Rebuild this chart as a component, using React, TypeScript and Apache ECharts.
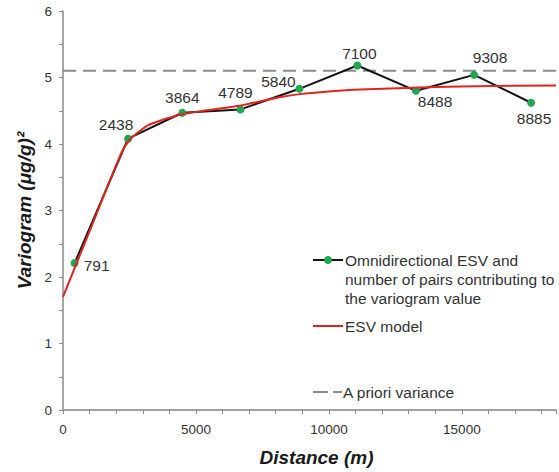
import React, { useEffect, useRef } from "react";
import * as echarts from "echarts";

// Experimental semivariogram (ESV): lag distance (m), variogram value, number of pairs
const LAG_DISTANCE = [438, 2446, 4488, 6672, 8889, 11070, 13276, 15460, 17603];
const ESV_VALUES = [2.21, 4.08, 4.47, 4.52, 4.83, 5.18, 4.8, 5.04, 4.62];
const PAIR_COUNTS = [791, 2438, 3864, 4789, 5840, 7100, 8488, 9308, 8885];

// ESV model curve
const MODEL_DISTANCE = [0, 1000, 2200, 2500, 2900, 3300, 4400, 5300, 6700, 8100, 8900, 10000, 11200, 13400, 15500, 18540];
const MODEL_VALUES = [1.7, 2.69, 3.87, 4.06, 4.2, 4.3, 4.44, 4.5, 4.58, 4.7, 4.75, 4.79, 4.82, 4.85, 4.87, 4.88];

// A priori variance
const A_PRIORI_VARIANCE = 5.1;

const X_MAX = 18540;
const Y_TICKS = [0, 1, 2, 3, 4, 5, 6];
const X_TICK_STEP = 5000;

const FONT = "'Liberation Sans', Arial, sans-serif";
const GREEN = "#1fa64e";
const RED = "#e2231f";
const GREY = "#8a8a8a";
const TEXT = "#333333";

// label placement relative to each point (style, not data)
const LABEL_OFFSETS: [number, number][] = [
  [22, 2],
  [-12, -14],
  [0, -15],
  [-5, -17],
  [-21, -7],
  [2, -12],
  [19, 11],
  [16, -17],
  [3, 16],
];

export default function App() {
  const ref = useRef<HTMLDivElement>(null);

  useEffect(() => {
    if (!ref.current) return;
    const chart = echarts.init(ref.current, undefined, { renderer: "svg" });

    const esvData = LAG_DISTANCE.map((x, i) => ({
      value: [x, ESV_VALUES[i]],
      label: { offset: LABEL_OFFSETS[i] },
    }));
    const modelData = MODEL_DISTANCE.map((x, i) => [x, MODEL_VALUES[i]]);
    const aprioriData = [
      [0, A_PRIORI_VARIANCE],
      [X_MAX, A_PRIORI_VARIANCE],
    ];

    const legendText = {
      fill: TEXT,
      font: `15.5px ${FONT}`,
    };

    chart.setOption({
      animation: false,
      backgroundColor: "#ffffff",
      grid: { left: 63, right: 0, top: 11, bottom: 60, containLabel: false },
      xAxis: [
        {
          type: "value",
          min: 0,
          max: X_MAX,
          interval: X_TICK_STEP,
          name: "Distance (m)",
          nameLocation: "middle",
          nameGap: 38,
          nameTextStyle: {
            fontFamily: FONT,
            fontSize: 19,
            fontWeight: "bold",
            fontStyle: "italic",
            color: "#1a1a1a",
            padding: [0, 0, 0, 14],
          },
          axisLine: { show: true, onZero: false, lineStyle: { color: GREY, width: 1.5 } },
          axisTick: { show: true, inside: false, length: 4, lineStyle: { color: GREY } },
          minorTick: { show: true, splitNumber: 5, length: 4, lineStyle: { color: GREY } },
          splitLine: { show: false },
          axisLabel: {
            margin: 12,
            fontFamily: FONT,
            fontSize: 13.5,
            color: TEXT,
            formatter: (v: number) => (v % X_TICK_STEP === 0 ? String(v) : ""),
          },
        },
        {
          type: "value",
          position: "top",
          min: 0,
          max: X_MAX,
          axisLine: { show: true, lineStyle: { color: "#a0a0a0", width: 1.5 } },
          axisTick: { show: false },
          axisLabel: { show: false },
          splitLine: { show: false },
        },
      ],
      yAxis: {
        type: "value",
        min: Y_TICKS[0],
        max: Y_TICKS[Y_TICKS.length - 1],
        interval: 1,
        name: "Variogram (μg/g)²",
        nameLocation: "middle",
        nameGap: 27,
        nameTextStyle: {
          fontFamily: FONT,
          fontSize: 19,
          fontWeight: "bold",
          fontStyle: "italic",
          color: "#1a1a1a",
        },
        axisLine: { show: true, lineStyle: { color: GREY, width: 1.5 } },
        axisTick: { show: true, inside: false, length: 4, lineStyle: { color: GREY } },
        minorTick: { show: true, splitNumber: 2, length: 4, lineStyle: { color: GREY } },
        splitLine: { show: false },
        axisLabel: { margin: 11, fontFamily: FONT, fontSize: 13.5, color: TEXT },
      },
      series: [
        {
          name: "A priori variance",
          type: "line",
          data: aprioriData,
          symbol: "none",
          lineStyle: { color: GREY, width: 2, type: [13, 7] },
          z: 1,
        },
        {
          name: "ESV model",
          type: "line",
          data: modelData,
          symbol: "none",
          smooth: 0.25,
          lineStyle: { color: RED, width: 2 },
          z: 3,
        },
        {
          name: "Omnidirectional ESV",
          type: "line",
          data: esvData,
          symbol: "circle",
          symbolSize: 8,
          itemStyle: { color: GREEN, borderWidth: 0 },
          lineStyle: { color: "#141414", width: 2 },
          label: {
            show: true,
            position: "inside",
            fontFamily: FONT,
            fontSize: 15.5,
            color: TEXT,
            formatter: (p: any) => String(PAIR_COUNTS[p.dataIndex]),
          },
          z: 2,
        },
      ],
      graphic: [
        { type: "line", shape: { x1: 313, y1: 260, x2: 343, y2: 260 }, style: { stroke: "#141414", lineWidth: 2 } },
        { type: "circle", shape: { cx: 328, cy: 260, r: 4 }, style: { fill: GREEN } },
        {
          type: "text",
          x: 345,
          y: 250.5,
          style: {
            ...legendText,
            text: "Omnidirectional ESV and\nnumber of pairs contributing to\nthe variogram value",
            lineHeight: 19,
            verticalAlign: "top",
          },
        },
        { type: "line", shape: { x1: 313, y1: 326, x2: 343, y2: 326 }, style: { stroke: RED, lineWidth: 2 } },
        { type: "text", x: 345, y: 326, style: { ...legendText, text: "ESV model", verticalAlign: "middle" } },
        { type: "line", shape: { x1: 313, y1: 392, x2: 328, y2: 392 }, style: { stroke: GREY, lineWidth: 2 } },
        { type: "line", shape: { x1: 333, y1: 392, x2: 342, y2: 392 }, style: { stroke: GREY, lineWidth: 2 } },
        { type: "text", x: 343, y: 392, style: { ...legendText, text: "A priori variance", verticalAlign: "middle" } },
      ],
    });

    return () => chart.dispose();
  }, []);

  return (
    <div
      ref={ref}
      style={{ position: "fixed", left: 0, top: 0, width: 559, height: 472, background: "#fff" }}
    />
  );
}
